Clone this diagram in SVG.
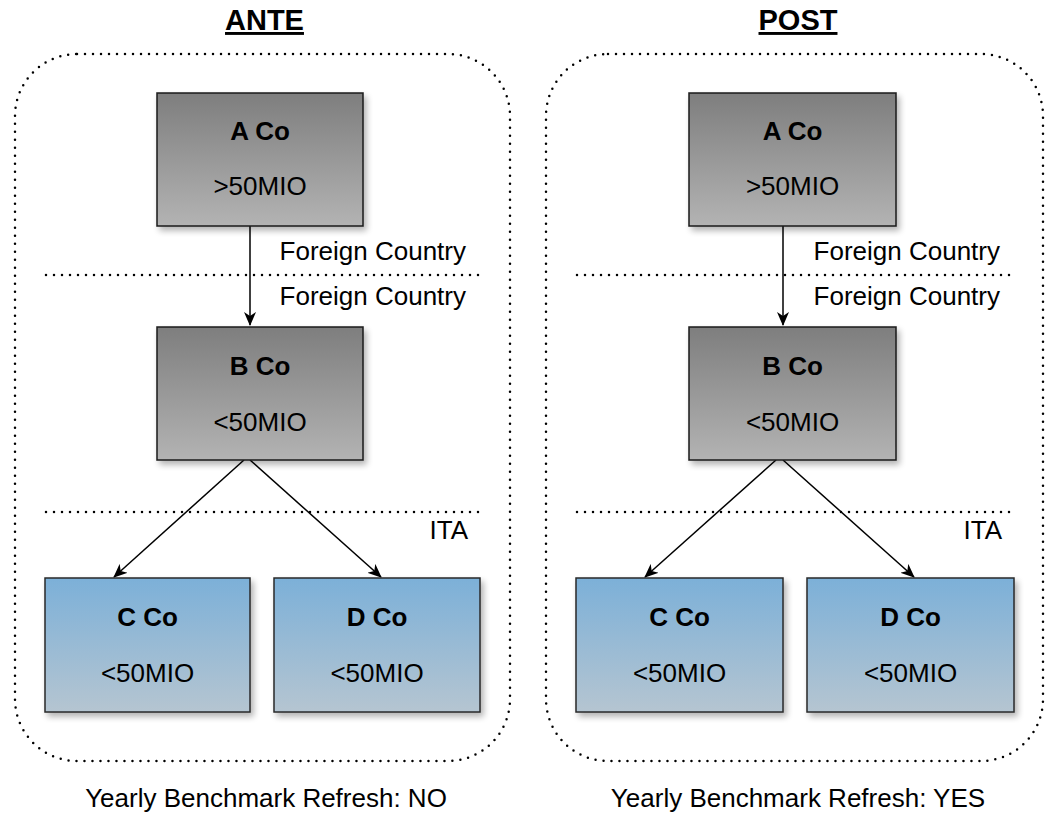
<svg xmlns="http://www.w3.org/2000/svg" width="1057" height="814" viewBox="0 0 1057 814">
<style>
.t{font-family:"Liberation Sans",Arial,sans-serif;font-size:26px;fill:#000}
.b{font-weight:bold}
.title{font-family:"Liberation Sans",Arial,sans-serif;font-size:29px;font-weight:bold;text-decoration:underline}
.cont{fill:none;stroke:#000;stroke-width:2.5;stroke-dasharray:0 8;stroke-linecap:round}
.sep{fill:none;stroke:#000;stroke-width:2.5;stroke-dasharray:0 8;stroke-linecap:round}
.gray{fill:url(#gg);stroke:#1a1a1a;stroke-width:1.5;filter:url(#sh)}
.blue{fill:url(#bg);stroke:#2a2a2a;stroke-width:1.5;filter:url(#sh)}
.edge{stroke:#000;stroke-width:1.5;fill:none;marker-end:url(#arr)}
</style>
<defs>
<linearGradient id="gg" x1="0" y1="0" x2="0" y2="1"><stop offset="0" stop-color="#7e7e7e"/><stop offset="1" stop-color="#b3b3b3"/></linearGradient>
<linearGradient id="bg" x1="0" y1="0" x2="0" y2="1"><stop offset="0" stop-color="#7cb0d8"/><stop offset="1" stop-color="#b5c5d1"/></linearGradient>
<filter id="sh" x="-10%" y="-10%" width="130%" height="130%"><feGaussianBlur in="SourceAlpha" stdDeviation="3"/><feOffset dx="3" dy="4" result="o"/><feComponentTransfer><feFuncA type="linear" slope="0.3"/></feComponentTransfer><feMerge><feMergeNode/><feMergeNode in="SourceGraphic"/></feMerge></filter>
<marker id="arr" viewBox="0 0 14 14" refX="13" refY="7" markerWidth="14" markerHeight="14" markerUnits="userSpaceOnUse" orient="auto"><path d="M0,1 L14,7 L0,13 L4,7 Z" fill="#000"/></marker>
</defs>

<g id="ante">
<text class="title" x="264.5" y="30" text-anchor="middle">ANTE</text>
<rect class="cont" x="15" y="54" width="495" height="707" rx="62"/>
<line class="sep" x1="46" y1="275" x2="481" y2="275"/>
<line class="sep" x1="46" y1="512" x2="481" y2="512"/>
<text class="t" x="466" y="260" text-anchor="end">Foreign Country</text>
<text class="t" x="466" y="305" text-anchor="end">Foreign Country</text>
<text class="t" x="468" y="539" text-anchor="end">ITA</text>
<text class="t" x="266" y="807" text-anchor="middle">Yearly Benchmark Refresh: NO</text>
</g>

<g id="post">
<text class="title" x="798" y="30" text-anchor="middle">POST</text>
<rect class="cont" x="546" y="54" width="497" height="707" rx="62"/>
<line class="sep" x1="577" y1="275" x2="1015" y2="275"/>
<line class="sep" x1="577" y1="512" x2="1015" y2="512"/>
<text class="t" x="1000" y="260" text-anchor="end">Foreign Country</text>
<text class="t" x="1000" y="305" text-anchor="end">Foreign Country</text>
<text class="t" x="1002" y="539" text-anchor="end">ITA</text>
<text class="t" x="798" y="807" text-anchor="middle">Yearly Benchmark Refresh: YES</text>
</g>

<g id="connectors">
<line class="edge" x1="250" y1="226" x2="250" y2="325"/>
<line class="edge" x1="244" y1="460" x2="114" y2="577"/>
<line class="edge" x1="250" y1="460" x2="381" y2="577"/>
<line class="edge" x1="783" y1="226" x2="783" y2="325"/>
<line class="edge" x1="776" y1="460" x2="645" y2="577"/>
<line class="edge" x1="783" y1="460" x2="914" y2="577"/>
</g>

<g id="ante-a"><rect class="gray" x="157" y="93" width="206" height="133"/><text class="t b" x="260" y="140" text-anchor="middle">A Co</text><text class="t" x="260" y="195" text-anchor="middle">&gt;50MIO</text></g>
<g id="ante-b"><rect class="gray" x="157" y="327" width="206" height="133"/><text class="t b" x="260" y="375" text-anchor="middle">B Co</text><text class="t" x="260" y="431" text-anchor="middle">&lt;50MIO</text></g>
<g id="ante-c"><rect class="blue" x="45" y="578" width="205" height="134"/><text class="t b" x="147.5" y="626" text-anchor="middle">C Co</text><text class="t" x="147.5" y="682" text-anchor="middle">&lt;50MIO</text></g>
<g id="ante-d"><rect class="blue" x="274" y="578" width="206" height="134"/><text class="t b" x="377" y="626" text-anchor="middle">D Co</text><text class="t" x="377" y="682" text-anchor="middle">&lt;50MIO</text></g>

<g id="post-a"><rect class="gray" x="689" y="93" width="207" height="133"/><text class="t b" x="792.5" y="140" text-anchor="middle">A Co</text><text class="t" x="792.5" y="195" text-anchor="middle">&gt;50MIO</text></g>
<g id="post-b"><rect class="gray" x="689" y="327" width="207" height="133"/><text class="t b" x="792.5" y="375" text-anchor="middle">B Co</text><text class="t" x="792.5" y="431" text-anchor="middle">&lt;50MIO</text></g>
<g id="post-c"><rect class="blue" x="576" y="578" width="207" height="134"/><text class="t b" x="679.5" y="626" text-anchor="middle">C Co</text><text class="t" x="679.5" y="682" text-anchor="middle">&lt;50MIO</text></g>
<g id="post-d"><rect class="blue" x="807" y="578" width="207" height="134"/><text class="t b" x="910.5" y="626" text-anchor="middle">D Co</text><text class="t" x="910.5" y="682" text-anchor="middle">&lt;50MIO</text></g>
</svg>
